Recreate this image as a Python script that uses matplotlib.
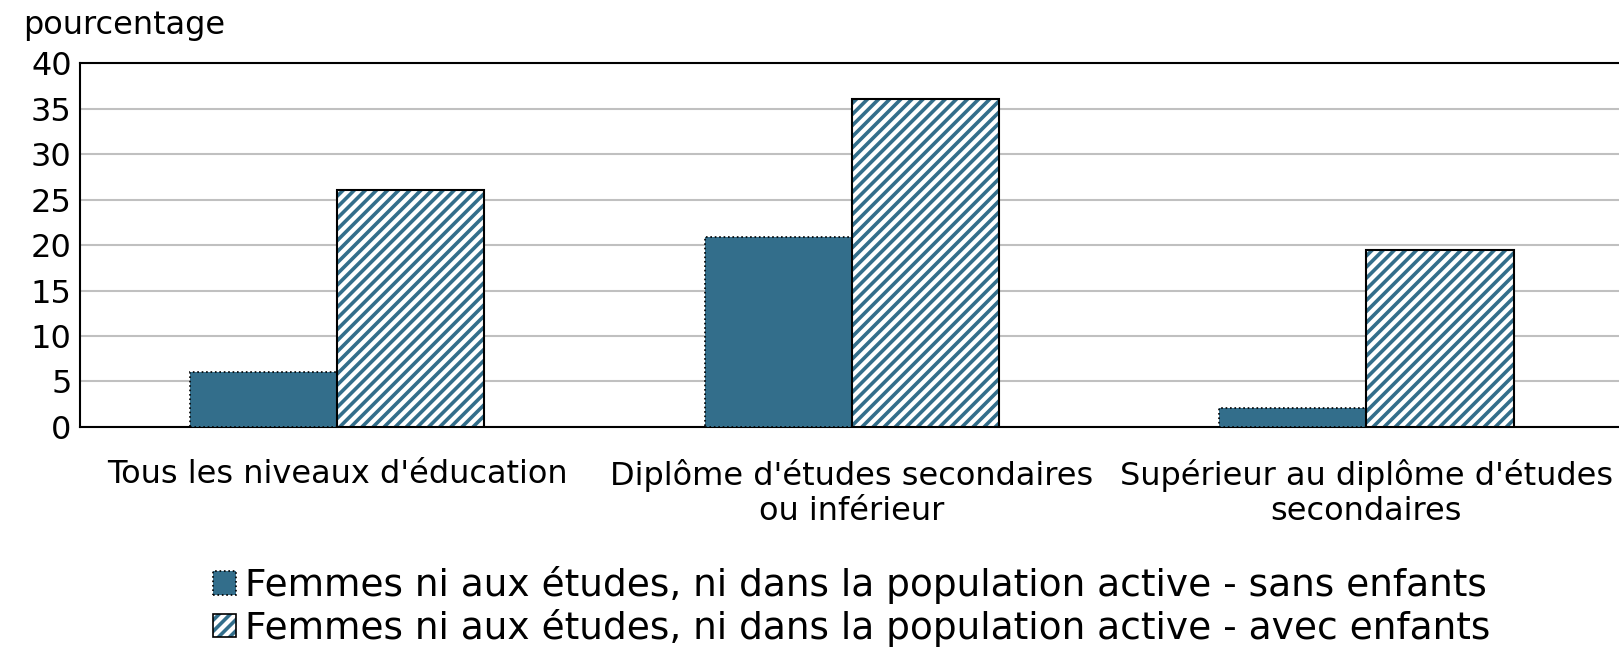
import matplotlib.pyplot as plt
from matplotlib.patches import Patch
import numpy as np

# data
categories = ["Tous les niveaux d'éducation",
              "Diplôme d'études secondaires\nou inférieur",
              "Supérieur au diplôme d'études\nsecondaires"]
sans_enfants = [6.0, 20.9, 2.1]
avec_enfants = [26.1, 36.0, 19.5]
series_labels = ["Femmes ni aux études, ni dans la population active - sans enfants",
                 "Femmes ni aux études, ni dans la population active - avec enfants"]
yticks = [0, 5, 10, 15, 20, 25, 30, 35, 40]

blue = '#336e8b'
plt.rcParams['font.family'] = ['DejaVu Sans']
plt.rcParams['hatch.linewidth'] = 2.6

fig = plt.figure(figsize=(16.19, 6.62), dpi=100)
ax = fig.add_axes([0.0494, 0.355, 0.9535, 0.5498])

x = np.arange(len(categories))
w = 0.286
ax.bar(x - w / 2, sans_enfants, w, color=blue, edgecolor='black',
       linestyle=':', linewidth=1.2, zorder=3)
# hatched fill drawn in blue, outline drawn separately in black
ax.bar(x + w / 2, avec_enfants, w, color='white', edgecolor=blue,
       hatch='///', linewidth=0, zorder=3)
ax.bar(x + w / 2, avec_enfants, w, fill=False, edgecolor='black',
       linewidth=1.5, zorder=4)

ax.set_xlim(-0.5, len(categories) - 0.5)
ax.set_ylim(0, 40)
ax.set_yticks(yticks)
ax.yaxis.grid(True, color='#c0c0c0', linewidth=1.5, zorder=0)
ax.set_axisbelow(True)
ax.tick_params(axis='both', length=0, labelsize=23, pad=6)
ax.tick_params(axis='x', pad=23)
ax.set_xticks(x)
ax.set_xticklabels(categories, fontsize=23, linespacing=1.17)
for side in ['left', 'bottom', 'top']:
    ax.spines[side].set_linewidth(1.5)
    ax.spines[side].set_color('black')
ax.spines['right'].set_visible(False)

fig.text(0.0142, 0.961, "pourcentage", fontsize=23, va='center', ha='left')

h1 = Patch(facecolor=blue, edgecolor='black', linestyle=':', linewidth=1.2)
h2 = (Patch(facecolor='white', edgecolor=blue, hatch='///', linewidth=0),
      Patch(fill=False, edgecolor='black', linewidth=1.2))
leg = ax.legend([h1, h2], series_labels, loc='upper center', bbox_to_anchor=(0.5, -0.29),
                ncol=1, frameon=False, fontsize=27, handlelength=0.6, handleheight=0.6,
                handletextpad=0.25, labelspacing=0.12)

fig.savefig('out.png', dpi=100)
